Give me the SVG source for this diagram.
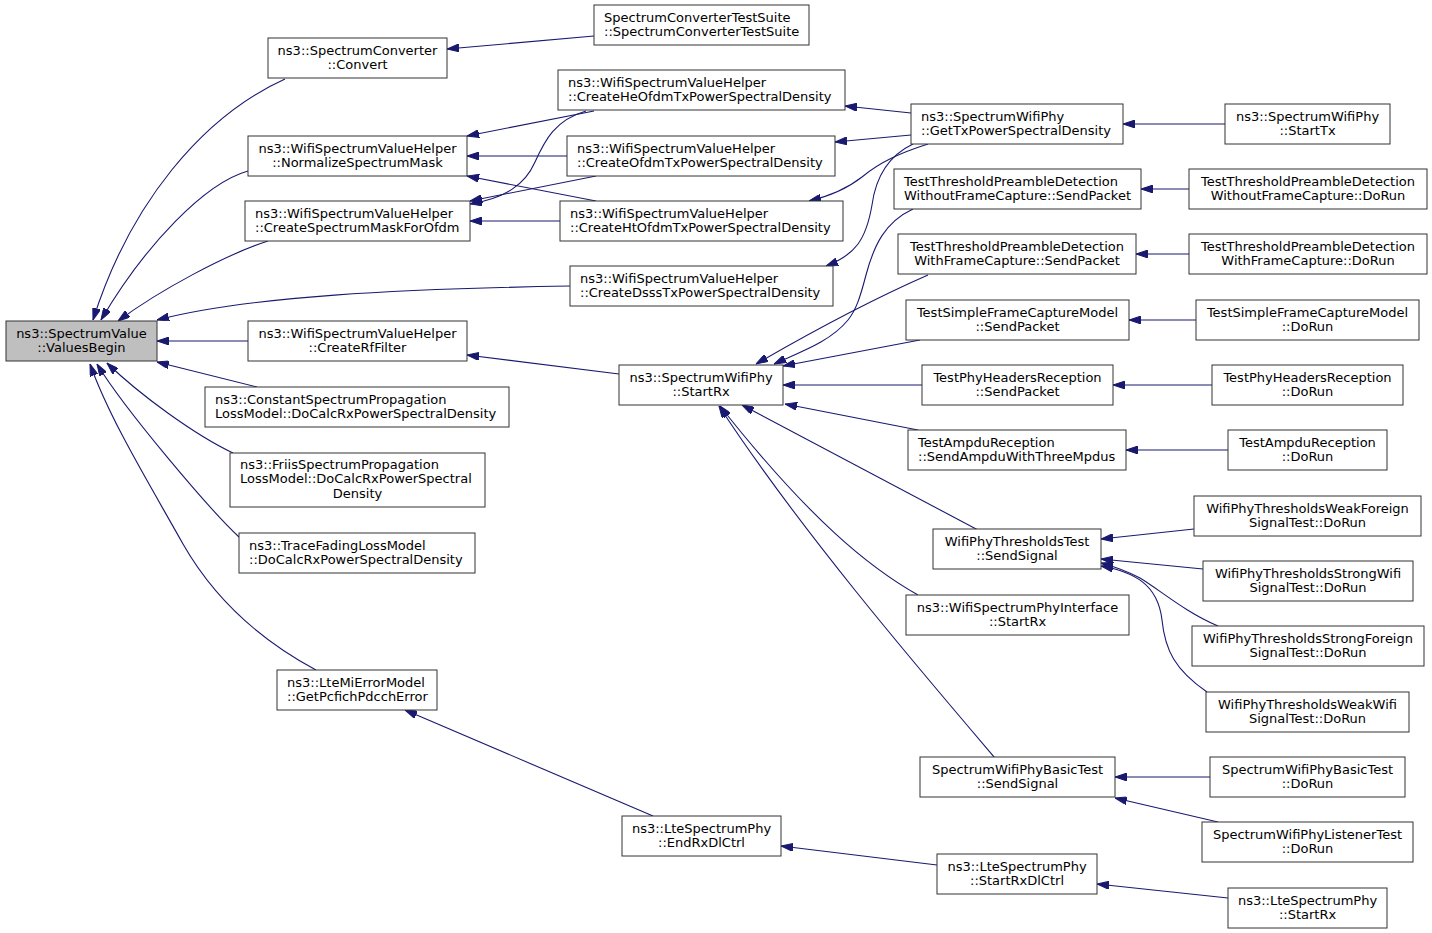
<svg xmlns="http://www.w3.org/2000/svg" width="1432" height="933" viewBox="0 0 1432 933">
<style>
rect{fill:#fff;stroke:#333;stroke-width:1}
rect.root{fill:#bfbfbf}
text{font-family:"DejaVu Sans",sans-serif;font-size:13px;fill:#000}
.c{text-anchor:middle}
.l{text-anchor:start}
#edges path{fill:none;stroke:#191970;stroke-width:1.1;marker-end:url(#ah)}
</style>
<defs>
<marker id="ah" viewBox="0 0 12 8" refX="12" refY="4" markerWidth="12" markerHeight="8" markerUnits="userSpaceOnUse" orient="auto">
<path d="M0,0 L12,4 L0,8 z" fill="#191970" stroke="#191970"/>
</marker>
</defs>
<rect x="0" y="0" width="1432" height="933" style="fill:#fff;stroke:none"/>
<g id="edges">
<path d="M285,79 C203,116 130,203 93,320"/>
<path d="M248,171 C205,183 145,245 101,320"/>
<path d="M268,241 C225,255 160,290 118,321"/>
<path d="M570,286 C400,289 250,296 157,320"/>
<path d="M248,341 L157,341"/>
<path d="M257,387 L157,362"/>
<path d="M233,453 C195,435 140,395 107,363"/>
<path d="M239,537 C210,510 125,410 97,364"/>
<path d="M316,670 C260,640 215,600 183,544 C150,485 110,420 90,364"/>
<path d="M594,36 L447,49"/>
<path d="M594,111 L467,136"/>
<path d="M586,111 C555,120 545,140 535,162 C525,185 505,198 470,204"/>
<path d="M567,156 L467,156"/>
<path d="M596,176 L470,201"/>
<path d="M596,201 L467,176"/>
<path d="M560,221 L470,221"/>
<path d="M911,113 L845,106"/>
<path d="M911,135 L835,142"/>
<path d="M928,144 C900,153 880,162 862,177 C848,188 830,196 809,201"/>
<path d="M913,144 C890,155 876,175 872,205 C866,240 855,255 826,266"/>
<path d="M1225,124 L1123,124"/>
<path d="M1189,189 L1141,189"/>
<path d="M1189,254 L1136,254"/>
<path d="M1196,320 L1129,320"/>
<path d="M1212,385 L1113,385"/>
<path d="M1228,450 L1126,450"/>
<path d="M1194,529 L1101,539"/>
<path d="M1203,569 L1101,559"/>
<path d="M1218,626 C1185,612 1160,590 1140,578 C1125,570 1112,566 1101,563"/>
<path d="M1207,692 C1175,670 1165,650 1162,620 C1158,585 1135,572 1101,566"/>
<path d="M1210,777 L1115,777"/>
<path d="M1218,822 L1115,798"/>
<path d="M1228,898 L1097,884"/>
<path d="M937,865 L781,846"/>
<path d="M653,816 L405,710"/>
<path d="M619,374 L467,355"/>
<path d="M913,209 C885,222 874,245 866,275 C860,298 856,310 848,320 C830,342 800,352 774,364"/>
<path d="M928,275 C880,296 820,327 756,364"/>
<path d="M920,340 L783,366"/>
<path d="M922,385 L783,385"/>
<path d="M918,430 L785,404"/>
<path d="M978,530 L742,405"/>
<path d="M918,595 C870,568 810,520 720,406"/>
<path d="M995,758 C920,670 800,530 719,406"/>
</g>
<g id="n0"><rect class="root" x="6" y="321" width="151" height="40"/><text class="c" x="81.5" y="338">ns3::SpectrumValue</text><text class="c" x="81.5" y="352">::ValuesBegin</text></g>
<g id="n1"><rect x="268" y="38" width="179" height="40"/><text class="c" x="357.5" y="55">ns3::SpectrumConverter</text><text class="c" x="357.5" y="69">::Convert</text></g>
<g id="n2"><rect x="594" y="5" width="215" height="40"/><text class="l" x="604" y="22">SpectrumConverterTestSuite</text><text class="l" x="604" y="36">::SpectrumConverterTestSuite</text></g>
<g id="n3"><rect x="248" y="136" width="219" height="40"/><text class="c" x="357.5" y="153">ns3::WifiSpectrumValueHelper</text><text class="c" x="357.5" y="167">::NormalizeSpectrumMask</text></g>
<g id="n4"><rect x="245" y="201" width="225" height="40"/><text class="l" x="255" y="218">ns3::WifiSpectrumValueHelper</text><text class="l" x="255" y="232">::CreateSpectrumMaskForOfdm</text></g>
<g id="n5"><rect x="558" y="70" width="287" height="40"/><text class="l" x="568" y="87">ns3::WifiSpectrumValueHelper</text><text class="l" x="568" y="101">::CreateHeOfdmTxPowerSpectralDensity</text></g>
<g id="n6"><rect x="567" y="136" width="268" height="40"/><text class="l" x="577" y="153">ns3::WifiSpectrumValueHelper</text><text class="l" x="577" y="167">::CreateOfdmTxPowerSpectralDensity</text></g>
<g id="n7"><rect x="560" y="201" width="283" height="40"/><text class="l" x="570" y="218">ns3::WifiSpectrumValueHelper</text><text class="l" x="570" y="232">::CreateHtOfdmTxPowerSpectralDensity</text></g>
<g id="n8"><rect x="570" y="266" width="263" height="40"/><text class="l" x="580" y="283">ns3::WifiSpectrumValueHelper</text><text class="l" x="580" y="297">::CreateDsssTxPowerSpectralDensity</text></g>
<g id="n9"><rect x="911" y="104" width="212" height="40"/><text class="l" x="921" y="121">ns3::SpectrumWifiPhy</text><text class="l" x="921" y="135">::GetTxPowerSpectralDensity</text></g>
<g id="n10"><rect x="1225" y="104" width="165" height="40"/><text class="c" x="1307.5" y="121">ns3::SpectrumWifiPhy</text><text class="c" x="1307.5" y="135">::StartTx</text></g>
<g id="n11"><rect x="894" y="169" width="247" height="40"/><text class="l" x="904" y="186">TestThresholdPreambleDetection</text><text class="l" x="904" y="200">WithoutFrameCapture::SendPacket</text></g>
<g id="n12"><rect x="1189" y="169" width="238" height="40"/><text class="c" x="1308" y="186">TestThresholdPreambleDetection</text><text class="c" x="1308" y="200">WithoutFrameCapture::DoRun</text></g>
<g id="n13"><rect x="898" y="234" width="238" height="40"/><text class="c" x="1017" y="251">TestThresholdPreambleDetection</text><text class="c" x="1017" y="265">WithFrameCapture::SendPacket</text></g>
<g id="n14"><rect x="1189" y="234" width="238" height="40"/><text class="c" x="1308" y="251">TestThresholdPreambleDetection</text><text class="c" x="1308" y="265">WithFrameCapture::DoRun</text></g>
<g id="n15"><rect x="906" y="300" width="223" height="40"/><text class="c" x="1017.5" y="317">TestSimpleFrameCaptureModel</text><text class="c" x="1017.5" y="331">::SendPacket</text></g>
<g id="n16"><rect x="1196" y="300" width="223" height="40"/><text class="c" x="1307.5" y="317">TestSimpleFrameCaptureModel</text><text class="c" x="1307.5" y="331">::DoRun</text></g>
<g id="n17"><rect x="922" y="365" width="191" height="40"/><text class="c" x="1017.5" y="382">TestPhyHeadersReception</text><text class="c" x="1017.5" y="396">::SendPacket</text></g>
<g id="n18"><rect x="1212" y="365" width="191" height="40"/><text class="c" x="1307.5" y="382">TestPhyHeadersReception</text><text class="c" x="1307.5" y="396">::DoRun</text></g>
<g id="n19"><rect x="908" y="430" width="218" height="40"/><text class="l" x="918" y="447">TestAmpduReception</text><text class="l" x="918" y="461">::SendAmpduWithThreeMpdus</text></g>
<g id="n20"><rect x="1228" y="430" width="159" height="40"/><text class="c" x="1307.5" y="447">TestAmpduReception</text><text class="c" x="1307.5" y="461">::DoRun</text></g>
<g id="n21"><rect x="933" y="529" width="168" height="40"/><text class="c" x="1017" y="546">WifiPhyThresholdsTest</text><text class="c" x="1017" y="560">::SendSignal</text></g>
<g id="n22"><rect x="1194" y="496" width="227" height="40"/><text class="c" x="1307.5" y="513">WifiPhyThresholdsWeakForeign</text><text class="c" x="1307.5" y="527">SignalTest::DoRun</text></g>
<g id="n23"><rect x="1203" y="561" width="210" height="40"/><text class="c" x="1308" y="578">WifiPhyThresholdsStrongWifi</text><text class="c" x="1308" y="592">SignalTest::DoRun</text></g>
<g id="n24"><rect x="1192" y="626" width="232" height="40"/><text class="c" x="1308" y="643">WifiPhyThresholdsStrongForeign</text><text class="c" x="1308" y="657">SignalTest::DoRun</text></g>
<g id="n25"><rect x="1206" y="692" width="203" height="40"/><text class="c" x="1307.5" y="709">WifiPhyThresholdsWeakWifi</text><text class="c" x="1307.5" y="723">SignalTest::DoRun</text></g>
<g id="n26"><rect x="906" y="595" width="223" height="40"/><text class="c" x="1017.5" y="612">ns3::WifiSpectrumPhyInterface</text><text class="c" x="1017.5" y="626">::StartRx</text></g>
<g id="n27"><rect x="920" y="757" width="195" height="40"/><text class="c" x="1017.5" y="774">SpectrumWifiPhyBasicTest</text><text class="c" x="1017.5" y="788">::SendSignal</text></g>
<g id="n28"><rect x="1210" y="757" width="195" height="40"/><text class="c" x="1307.5" y="774">SpectrumWifiPhyBasicTest</text><text class="c" x="1307.5" y="788">::DoRun</text></g>
<g id="n29"><rect x="1202" y="822" width="211" height="40"/><text class="c" x="1307.5" y="839">SpectrumWifiPhyListenerTest</text><text class="c" x="1307.5" y="853">::DoRun</text></g>
<g id="n30"><rect x="619" y="365" width="164" height="40"/><text class="c" x="701" y="382">ns3::SpectrumWifiPhy</text><text class="c" x="701" y="396">::StartRx</text></g>
<g id="n31"><rect x="248" y="321" width="219" height="40"/><text class="c" x="357.5" y="338">ns3::WifiSpectrumValueHelper</text><text class="c" x="357.5" y="352">::CreateRfFilter</text></g>
<g id="n32"><rect x="205" y="387" width="304" height="40"/><text class="l" x="215" y="404">ns3::ConstantSpectrumPropagation</text><text class="l" x="215" y="418">LossModel::DoCalcRxPowerSpectralDensity</text></g>
<g id="n33"><rect x="230" y="453" width="255" height="54"/><text class="l" x="240" y="469">ns3::FriisSpectrumPropagation</text><text class="l" x="240" y="483">LossModel::DoCalcRxPowerSpectral</text><text class="c" x="357.5" y="497.5">Density</text></g>
<g id="n34"><rect x="239" y="533" width="236" height="40"/><text class="l" x="249" y="550">ns3::TraceFadingLossModel</text><text class="l" x="249" y="564">::DoCalcRxPowerSpectralDensity</text></g>
<g id="n35"><rect x="277" y="670" width="160" height="40"/><text class="l" x="287" y="687">ns3::LteMiErrorModel</text><text class="l" x="287" y="701">::GetPcfichPdcchError</text></g>
<g id="n36"><rect x="622" y="816" width="159" height="40"/><text class="c" x="701.5" y="833">ns3::LteSpectrumPhy</text><text class="c" x="701.5" y="847">::EndRxDlCtrl</text></g>
<g id="n37"><rect x="937" y="854" width="160" height="40"/><text class="c" x="1017" y="871">ns3::LteSpectrumPhy</text><text class="c" x="1017" y="885">::StartRxDlCtrl</text></g>
<g id="n38"><rect x="1228" y="888" width="159" height="40"/><text class="c" x="1307.5" y="905">ns3::LteSpectrumPhy</text><text class="c" x="1307.5" y="919">::StartRx</text></g>
</svg>
